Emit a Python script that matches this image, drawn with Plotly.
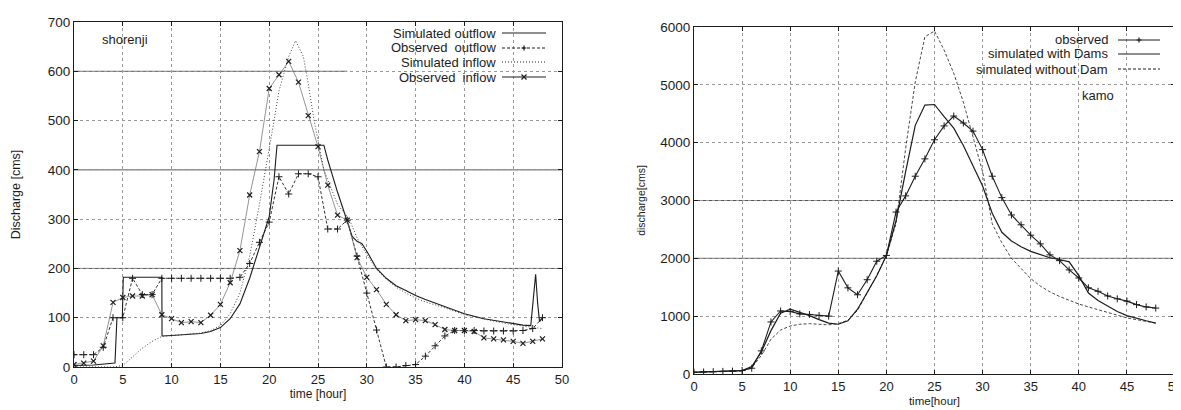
import plotly.graph_objects as go

# ---------------- data: left panel (shorenji) ----------------
sim_out_t = [0, 2, 4.2, 4.4, 4.95, 5.05, 9, 9.02, 10, 11, 12, 13, 14, 15, 16, 17, 18, 19, 20, 20.5, 20.8,
             25.6, 26, 27, 28, 28.5, 29, 29.5, 30, 31, 32, 33, 34, 35, 36, 38, 40, 42, 44, 46, 46.8,
             47.1, 47.3, 47.5, 47.7, 48]
sim_out_v = [3, 4, 8, 100, 100, 182, 182, 63, 64, 65, 66, 68, 72, 80, 98, 128, 180, 245, 305, 380, 450,
             450, 420, 355, 295, 265, 255, 250, 235, 200, 180, 165, 155, 145, 137, 122, 108, 98, 91, 85, 84,
             150, 188, 130, 92, 100]

obs_out_t = list(range(0, 49))
obs_out_v = [25, 25, 25, 40, 100, 100, 180, 147, 147, 180, 180, 180, 180, 180, 180, 180, 180, 182, 210, 253,
             294, 386, 351, 392, 392, 386, 280, 280, 298, 225, 150, 75, 0, 0, 3, 5, 22, 43, 63, 74,
             74, 74, 73, 73, 73, 73, 74, 78, 100]

sim_in_t = [0, 4, 5, 6, 7, 8, 9, 10, 11, 12, 13, 14, 15, 16, 17, 17.7, 18, 19, 20, 20.5, 21, 22, 22.7,
            23.5, 24, 24.6, 25.6, 27, 28.2, 29, 30, 31, 32, 33, 34, 35, 36, 38, 40, 42, 44, 46, 48]
sim_in_v = [0, 0, 3, 20, 38, 52, 62, 64, 65, 67, 69, 74, 84, 108, 150, 200, 225, 330, 440, 500, 560, 630, 662,
            630, 575, 500, 400, 330, 300, 262, 228, 198, 178, 162, 150, 140, 132, 120, 106, 97, 89, 83, 78]

obs_in_t = list(range(0, 49))
obs_in_v = [5, 8, 12, 43, 131, 141, 144, 144, 147, 106, 98, 90, 92, 90, 105, 127, 171, 236, 349, 437,
            565, 593, 620, 578, 510, 447, 369, 308, 298, 222, 182, 157, 127, 106, 94, 96, 94, 86, 76, 74,
            74, 72, 59, 57, 55, 52, 48, 52, 57]

# ---------------- data: right panel (kamo) ----------------
k_t = list(range(0, 49))
k_obs = [30, 35, 40, 45, 50, 60, 100, 400, 900, 1090, 1080, 1040, 1030, 1010, 1000, 1780, 1490, 1370, 1630,
         1950, 2050, 2800, 3080, 3420, 3720, 4050, 4290, 4460, 4340, 4200, 3880, 3420, 3050, 2750, 2580,
         2400, 2250, 2060, 1960, 1800, 1660, 1490, 1430, 1350, 1300, 1260, 1200, 1160, 1140]
k_with = [30, 35, 40, 45, 50, 60, 130, 380, 750, 1050, 1120, 1070, 1010, 940, 880, 860, 920, 1120, 1400,
          1700, 2050, 2650, 3500, 4300, 4650, 4660, 4450, 4250, 3950, 3600, 3250, 2780, 2450, 2300, 2200,
          2120, 2060, 2010, 1980, 1940, 1700, 1400, 1270, 1170, 1080, 1010, 960, 920, 880]
k_without = [30, 33, 36, 40, 45, 50, 110, 320, 600, 760, 830, 860, 870, 860, 850, 870, 930, 1100, 1400,
             1700, 2050, 2600, 3900, 5050, 5830, 5930, 5600, 5200, 4700, 4100, 3500, 2600, 2270, 2000, 1820,
             1650, 1520, 1420, 1340, 1270, 1210, 1160, 1110, 1060, 1010, 970, 940, 910, 880]

left_legend = ["Simulated outflow", "Observed\u00a0 outflow", "Simulated inflow", "Observed\u00a0 inflow"]
right_legend = ["observed", "simulated with Dams", "simulated without Dam"]

# ---------------- figure ----------------
W, H = 1181, 410
def px(x): return x / W
def py(y): return 1 - y / H

INK = "#1c1c1c"
FONT = "Liberation Sans, Arial, sans-serif"

fig = go.Figure()

# left
fig.add_trace(go.Scatter(x=sim_out_t, y=sim_out_v, mode="lines", line=dict(color=INK, width=1.1),
                         xaxis="x", yaxis="y", showlegend=False, name=left_legend[0]))
fig.add_trace(go.Scatter(x=obs_out_t, y=obs_out_v, mode="lines+markers",
                         line=dict(color=INK, width=0.9, dash="3px,2px"),
                         marker=dict(symbol="cross-thin", size=5, line=dict(color=INK, width=1)),
                         xaxis="x", yaxis="y", showlegend=False, name=left_legend[1]))
fig.add_trace(go.Scatter(x=sim_in_t, y=sim_in_v, mode="lines", line=dict(color="#444", width=1, dash="1px,2px"),
                         xaxis="x", yaxis="y", showlegend=False, name=left_legend[2]))
fig.add_trace(go.Scatter(x=obs_in_t, y=obs_in_v, mode="lines+markers", line=dict(color="#666", width=0.7),
                         marker=dict(symbol="x-thin", size=5, line=dict(color=INK, width=1.2)),
                         xaxis="x", yaxis="y", showlegend=False, name=left_legend[3]))

# right
fig.add_trace(go.Scatter(x=k_t, y=k_without, mode="lines", line=dict(color="#333", width=0.9, dash="3px,2px"),
                         xaxis="x2", yaxis="y2", showlegend=False, name=right_legend[2]))
fig.add_trace(go.Scatter(x=k_t, y=k_with, mode="lines", line=dict(color=INK, width=1.2),
                         xaxis="x2", yaxis="y2", showlegend=False, name=right_legend[1]))
fig.add_trace(go.Scatter(x=k_t, y=k_obs, mode="lines+markers", line=dict(color=INK, width=1.1),
                         marker=dict(symbol="cross-thin", size=5, line=dict(color=INK, width=1)),
                         xaxis="x2", yaxis="y2", showlegend=False, name=right_legend[0]))

axis_common = dict(showgrid=True, gridcolor="#999999", griddash="dot", gridwidth=1,
                   showline=True, linecolor=INK, linewidth=1.2, mirror="ticks",
                   ticks="inside", ticklen=4, tickcolor=INK, zeroline=False,
                   tickfont=dict(family=FONT, size=13, color=INK), automargin=False)

fig.update_layout(
    width=W, height=H, template="none",
    margin=dict(l=0, r=0, t=0, b=0),
    paper_bgcolor="white", plot_bgcolor="white",
    font=dict(family=FONT, color=INK),
    xaxis=dict(domain=[px(66), px(554)], range=[0, 50], dtick=5, anchor="y",
               title=dict(text="time [hour]", font=dict(size=12), standoff=3), **axis_common),
    yaxis=dict(domain=[py(359), py(14)], range=[0, 700], dtick=100, anchor="x",
               title=dict(text="Discharge [cms]", font=dict(size=12.5), standoff=24), **axis_common),
    xaxis2=dict(domain=[px(686), px(1167)], range=[0, 50], dtick=5, anchor="y2",
                title=dict(text="time[hour]", font=dict(size=11.5), standoff=4), **axis_common),
    yaxis2=dict(domain=[py(366), py(19)], range=[0, 6000], dtick=1000, anchor="x2",
                title=dict(text="discharge[cms]", font=dict(size=10.5), standoff=12), **axis_common),
)
fig.update_yaxes(tickfont=dict(size=13.5))

shapes = []
# darker (scanned) horizontal reference lines
for yv, xe in [(200, 50), (400, 50), (600, 28)]:
    shapes.append(dict(type="line", xref="x", yref="y", x0=0, x1=xe, y0=yv, y1=yv,
                       line=dict(color="#555", width=1), layer="below"))
for yv in [2000, 3000]:
    shapes.append(dict(type="line", xref="x2", yref="y2", x0=0, x1=50, y0=yv, y1=yv,
                       line=dict(color="#555", width=1), layer="below"))

annotations = []
def legend_row(label, y, tx, lx0, lx1, dash, mark, width=1):
    annotations.append(dict(text=label, x=px(tx), y=py(y), xref="paper", yref="paper",
                            xanchor="right", yanchor="middle", showarrow=False,
                            font=dict(family=FONT, size=13, color=INK)))
    shapes.append(dict(type="line", xref="paper", yref="paper", x0=px(lx0), x1=px(lx1), y0=py(y), y1=py(y),
                       line=dict(color=INK, width=width, dash=dash)))
    cx = px((lx0 + lx1) / 2)
    if mark == "+":
        path = "M -2.5 0 L 2.5 0 M 0 -2.5 L 0 2.5"
    elif mark == "x":
        path = "M -2.5 -2.5 L 2.5 2.5 M -2.5 2.5 L 2.5 -2.5"
    else:
        return
    shapes.append(dict(type="path", xref="paper", yref="paper", xsizemode="pixel", ysizemode="pixel",
                       xanchor=cx, yanchor=py(y), path=path, line=dict(color=INK, width=1.2)))

legend_row(left_legend[0], 25, 490, 494, 538, "solid", None)
legend_row(left_legend[1], 40, 490, 494, 538, "3px,2px", "+")
legend_row(left_legend[2], 54, 490, 494, 538, "1px,2px", None)
legend_row(left_legend[3], 69, 490, 494, 538, "solid", "x")

legend_row(right_legend[0], 32, 1102, 1110, 1152, "solid", "+")
legend_row(right_legend[1], 46, 1102, 1110, 1152, "solid", None)
legend_row(right_legend[2], 61, 1102, 1110, 1152, "3px,2px", None)

annotations.append(dict(text="shorenji", x=px(92), y=py(32), xref="paper", yref="paper",
                        xanchor="left", yanchor="middle", showarrow=False,
                        font=dict(family=FONT, size=13, color=INK)))
annotations.append(dict(text="kamo", x=px(1072), y=py(88), xref="paper", yref="paper",
                        xanchor="left", yanchor="middle", showarrow=False,
                        font=dict(family=FONT, size=13, color=INK)))

fig.update_layout(shapes=shapes, annotations=annotations)
fig.write_html("out.html")
